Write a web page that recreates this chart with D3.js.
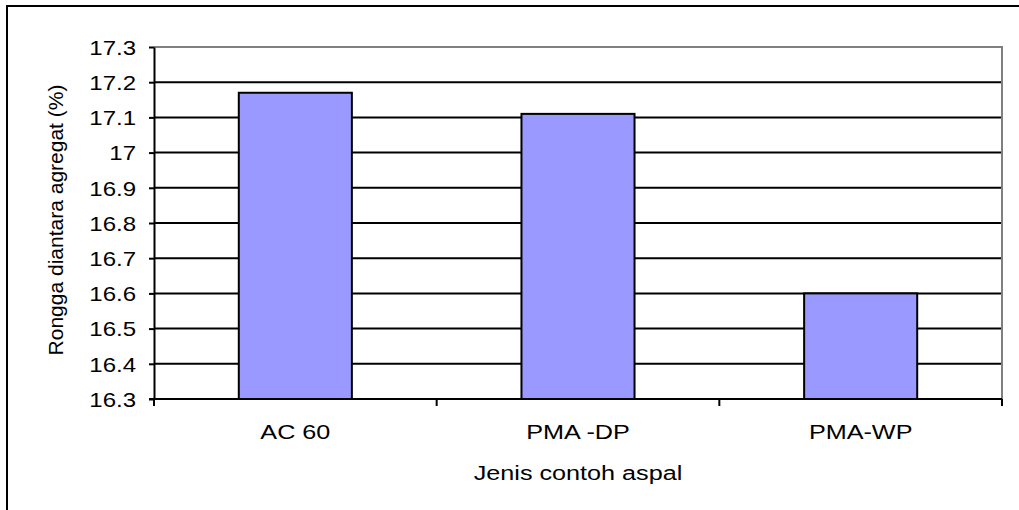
<!DOCTYPE html>
<html>
<head>
<meta charset="utf-8">
<script src="https://cdn.jsdelivr.net/npm/d3@7"></script>
<style>
  html, body { margin: 0; padding: 0; background: #fff; }
  svg { display: block; font-family: Arial, "Liberation Sans", sans-serif; }
</style>
</head>
<body>
<svg id="chart" width="1019" height="510"></svg>
<script>
// Void in mineral aggregate per asphalt type
const categories = ["AC 60", "PMA -DP", "PMA-WP"];
const values = [17.17, 17.11, 16.60];
const yTickLabels = ["16.3", "16.4", "16.5", "16.6", "16.7", "16.8", "16.9", "17", "17.1", "17.2", "17.3"];
const xTitle = "Jenis contoh aspal";
const yTitle = "Rongga diantara agregat (%)";

const svg = d3.select("#chart");
const plot = { left: 154, right: 1002, top: 47, bottom: 399 };
const stretch = 1.2;

// outer frame
svg.append("rect")
  .attr("x", 7).attr("y", 6)
  .attr("width", 1030).attr("height", 530)
  .attr("fill", "none").attr("stroke", "#000").attr("stroke-width", 2);

const yTicks = yTickLabels.map(Number);
const y = d3.scaleLinear()
  .domain([d3.min(yTicks), d3.max(yTicks)])
  .range([plot.bottom, plot.top]);

const x = d3.scaleBand()
  .domain(categories)
  .range([plot.left, plot.right])
  .paddingInner(0.6)
  .paddingOuter(0.3);

// horizontal gridlines
svg.append("g")
  .selectAll("line")
  .data(yTicks.slice(1, -1))
  .join("line")
  .attr("x1", plot.left).attr("x2", plot.right)
  .attr("y1", d => y(d)).attr("y2", d => y(d))
  .attr("stroke", "#000").attr("stroke-width", 2);

// plot area border (top and right)
svg.append("path")
  .attr("d", `M${plot.left},${y(d3.max(yTicks))}H${plot.right}V${plot.bottom}`)
  .attr("fill", "none").attr("stroke", "#808080").attr("stroke-width", 2);

// bars
svg.append("g")
  .selectAll("rect")
  .data(categories.map((c, i) => ({ c, v: values[i] })))
  .join("rect")
  .attr("x", d => x(d.c))
  .attr("y", d => y(d.v))
  .attr("width", x.bandwidth())
  .attr("height", d => y.range()[0] - y(d.v))
  .attr("fill", "#9999ff")
  .attr("stroke", "#000").attr("stroke-width", 2);

// y axis
const yAxis = svg.append("g")
  .attr("transform", `translate(${plot.left},0)`)
  .call(d3.axisLeft(y).tickValues(yTicks).tickSize(5).tickSizeOuter(0)
    .tickFormat((d, i) => yTickLabels[i]));
yAxis.select(".domain").attr("stroke-width", 2);
yAxis.selectAll(".tick line").attr("stroke-width", 2);
yAxis.selectAll(".tick text")
  .attr("font-size", 20)
  .attr("fill", "#000")
  .attr("x", 0)
  .attr("dy", "0.36em")
  .attr("text-anchor", "end")
  .attr("transform", `translate(-18,0) scale(${stretch},1)`);

// x axis with ticks at category boundaries
const xAxisG = svg.append("g").attr("transform", `translate(0,${plot.bottom})`);
xAxisG.append("line")
  .attr("x1", plot.left - 5).attr("x2", plot.right)
  .attr("stroke", "#000").attr("stroke-width", 2);
const step = x.step();
const boundaries = d3.range(categories.length + 1).map(i => plot.left + i * step);
xAxisG.selectAll(".bt")
  .data(boundaries)
  .join("line")
  .attr("class", "bt")
  .attr("x1", d => d).attr("x2", d => d)
  .attr("y1", 0).attr("y2", 7)
  .attr("stroke", "#000").attr("stroke-width", 2);
xAxisG.selectAll(".cl")
  .data(categories)
  .join("text")
  .attr("class", "cl")
  .attr("text-anchor", "middle")
  .attr("font-size", 21)
  .attr("transform", d => `translate(${x(d) + x.bandwidth() / 2},40) scale(${stretch},1)`)
  .text(d => d);

// axis titles
svg.append("text")
  .attr("text-anchor", "middle")
  .attr("font-size", 21)
  .attr("transform", `translate(${(plot.left + plot.right) / 2},480) scale(${stretch},1)`)
  .text(xTitle);

svg.append("text")
  .attr("text-anchor", "middle")
  .attr("font-size", 21)
  .attr("transform", `translate(63,220) rotate(-90)`)
  .text(yTitle);
</script>
</body>
</html>
